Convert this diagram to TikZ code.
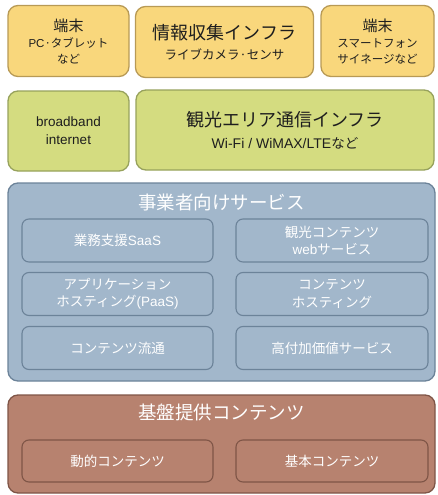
\documentclass[tikz,border=0pt]{standalone}
\usepackage{fontspec}
\setmainfont{Liberation Sans}
\newfontfamily\cjk{Noto Sans CJK JP}
\definecolor{yfill}{HTML}{F9D77C}
\definecolor{ydraw}{HTML}{B89A55}
\definecolor{gfill}{HTML}{D4DC80}
\definecolor{gdraw}{HTML}{97A25C}
\definecolor{bfill}{HTML}{A2B7CB}
\definecolor{bdraw}{HTML}{6C8399}
\definecolor{rfill}{HTML}{B7826F}
\definecolor{rdraw}{HTML}{7F5547}
\definecolor{dtext}{HTML}{1E1E1E}
\tikzset{
  outer/.style={rectangle, rounded corners=10pt, line width=1.3pt, inner sep=0pt},
  inner/.style={rectangle, rounded corners=7pt, line width=1.1pt, inner sep=0pt, text=white, font=\fontsize{13.5}{17.5}\selectfont, align=center},
  ybox/.style={outer, fill=yfill, draw=ydraw, text=dtext, align=center},
  gbox/.style={outer, fill=gfill, draw=gdraw, text=dtext, align=center},
  bbox/.style={outer, fill=bfill, draw=bdraw},
  rbox/.style={outer, fill=rfill, draw=rdraw},
  binner/.style={inner, fill=bfill, draw=bdraw},
  rinner/.style={inner, fill=rfill, draw=rdraw},
  ttl/.style={text=white, font=\cjk\fontsize{18.5}{20}\selectfont, inner sep=0pt}
}
\newcommand{\bigtxt}[1]{{\cjk\fontsize{18}{21}\selectfont #1}}
\newcommand{\midtxt}[1]{{\cjk\fontsize{15}{17}\selectfont #1}}
\newcommand{\smtxt}[1]{{\fontsize{11.5}{14}\selectfont #1}}
\begin{document}
\begin{tikzpicture}[x=1pt,y=-1pt]
\useasboundingbox (0,0) rectangle (437,495);
% row 1
\node[ybox, minimum width=121pt, minimum height=71pt, font=\fontsize{11.5}{16}\selectfont] (t1) at (68.5,41)
  {\midtxt{端末}\\\smtxt{PC{\cjk ·タブレット}}\\\smtxt{\cjk など}};
\node[ybox, minimum width=178pt, minimum height=71pt, font=\fontsize{12}{20.5}\selectfont] (t2) at (224.5,42)
  {\bigtxt{情報収集インフラ}\\{\cjk\fontsize{12.5}{14}\selectfont ライブカメラ·センサ}};
\node[ybox, minimum width=113pt, minimum height=71pt, font=\fontsize{11.5}{16}\selectfont] (t3) at (377.5,41)
  {\midtxt{端末}\\\smtxt{\cjk スマートフォン}\\\smtxt{\cjk サイネージなど}};
% row 2
\node[gbox, minimum width=121pt, minimum height=80pt, font=\fontsize{13.5}{18}\selectfont] (g1) at (68.5,131)
  {broadband\\internet};
\node[gbox, minimum width=298pt, minimum height=80pt, font=\fontsize{14}{22}\selectfont] (g2) at (285,130)
  {\bigtxt{観光エリア通信インフラ}\\Wi-Fi / WiMAX/LTE{\cjk\fontsize{13.5}{14}\selectfont など}};
% services
\node[bbox, minimum width=427pt, minimum height=198pt] (svc) at (221.5,282) {};
\node[ttl] (svct) at (221.5,202) {事業者向けサービス};
\node[binner, minimum width=191pt, minimum height=43pt] (s1) at (117.5,240.5) {{\cjk 業務支援}SaaS};
\node[binner, minimum width=192pt, minimum height=43pt] (s2) at (332,240.5) {{\cjk 観光コンテンツ}\\web{\cjk サービス}};
\node[binner, minimum width=191pt, minimum height=43pt] (s3) at (117.5,294) {{\cjk アプリケーション}\\{\cjk ホスティング}(PaaS)};
\node[binner, minimum width=192pt, minimum height=43pt] (s4) at (332,294) {{\cjk コンテンツ}\\{\cjk ホスティング}};
\node[binner, minimum width=191pt, minimum height=43pt] (s5) at (117.5,348) {{\cjk コンテンツ流通}};
\node[binner, minimum width=192pt, minimum height=43pt] (s6) at (332,348) {{\cjk 高付加価値サービス}};
% base contents
\node[rbox, minimum width=427pt, minimum height=98pt] (base) at (221.5,444) {};
\node[ttl] (baset) at (221.5,412) {基盤提供コンテンツ};
\node[rinner, minimum width=191pt, minimum height=42pt] (c1) at (117.5,461) {{\cjk 動的コンテンツ}};
\node[rinner, minimum width=192pt, minimum height=42pt] (c2) at (332,461) {{\cjk 基本コンテンツ}};
\end{tikzpicture}
\end{document}
